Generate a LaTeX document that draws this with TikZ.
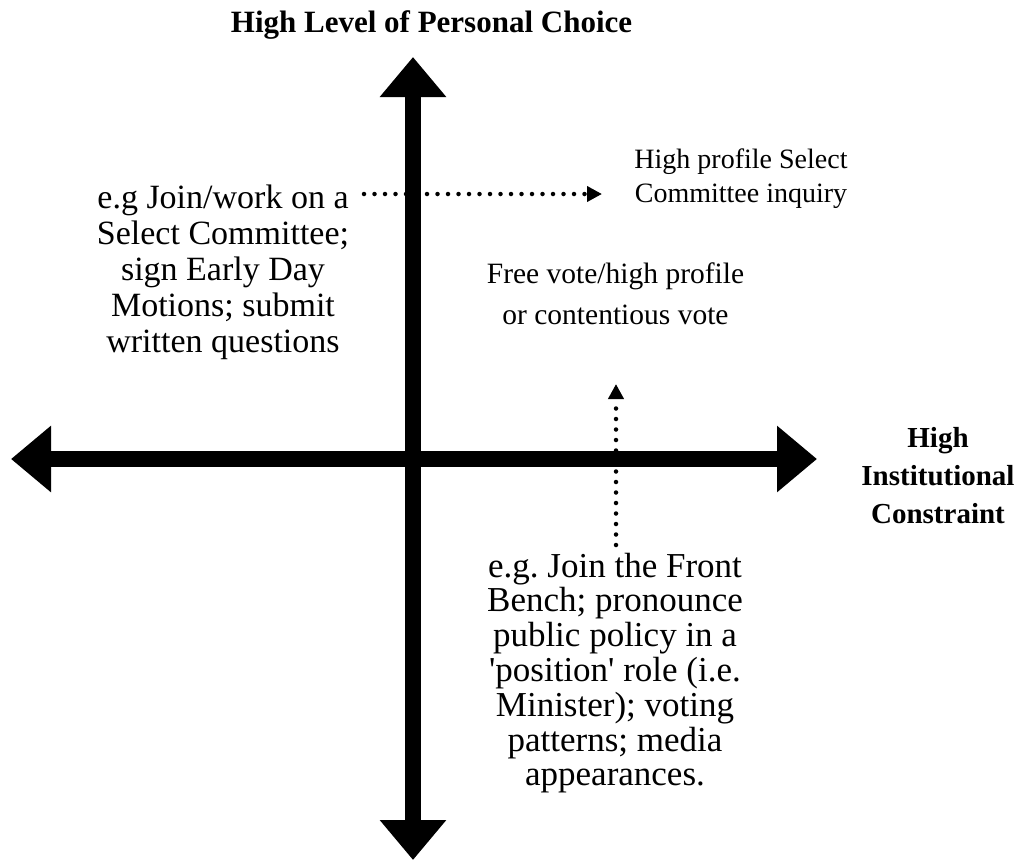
\documentclass[tikz,border=0pt]{standalone}
\usepackage{fontspec}
\setmainfont{Liberation Serif}
\usetikzlibrary{arrows.meta}

\tikzset{
  axis/.style={line width=16pt, -{Triangle[length=40pt,width=64pt]}},
  hint/.style={line width=4.5pt, line cap=round, dash pattern=on 0pt off 10.5pt,
               -{Triangle[length=15pt,width=15pt]}},
  bigtext/.style={align=center, inner sep=0pt, font=\fontsize{34}{36}\selectfont},
  smalltext/.style={align=center, inner sep=0pt},
  boldlabel/.style={align=center, inner sep=0pt, font=\fontsize{29}{38}\selectfont\bfseries},
}

\begin{document}
\frenchspacing
\begin{tikzpicture}[x=1pt, y=-1pt]
  \useasboundingbox[fill=white] (0,0) rectangle (1021,860);

  % axis end points
  \coordinate (top) at (413,57);
  \coordinate (bottom) at (413,860);
  \coordinate (left) at (11,459);
  \coordinate (right) at (817,459);
  \coordinate (vmid) at (413,459);

  % dotted pointers (drawn first so the axes lie over them)
  \coordinate (hstart) at (364,194);
  \coordinate (hend) at (602,194);
  \coordinate (vstart) at (616,545);
  \coordinate (vend) at (616,384);
  \draw[hint] (hstart) -- (hend);
  \draw[hint] (vstart) -- (vend);

  % the two axes
  \draw[axis] (vmid) -- (top);
  \draw[axis] (vmid) -- (bottom);
  \draw[axis] (vmid) -- (left);
  \draw[axis] (vmid) -- (right);

  % axis labels
  \node[boldlabel, anchor=base, font=\fontsize{31}{38}\selectfont\bfseries] (choice) at (431.5,32)
    {High Level of Personal Choice};
  \node[boldlabel] (constraint) at (938,476) {High\\Institutional\\Constraint};

  % quadrant texts
  \node[bigtext] (select) at (223,272)
    {e.g Join/work on a\\Select Committee;\\sign Early Day\\Motions; submit\\written questions};
  \node[smalltext, font=\fontsize{28}{34}\selectfont] (inquiry) at (741,178.5)
    {High profile Select\\Committee inquiry};
  \node[smalltext, font=\fontsize{29.5}{41}\selectfont] (freevote) at (615.5,294)
    {Free vote/high profile\\or contentious vote};
  \node[bigtext, font=\fontsize{35}{34.8}\selectfont] (front) at (615,673)
    {e.g. Join the Front\\Bench; pronounce\\public policy in a\\\textquotesingle position\textquotesingle\ role (i.e.\\Minister); voting\\patterns; media\\appearances.};
\end{tikzpicture}
\end{document}
